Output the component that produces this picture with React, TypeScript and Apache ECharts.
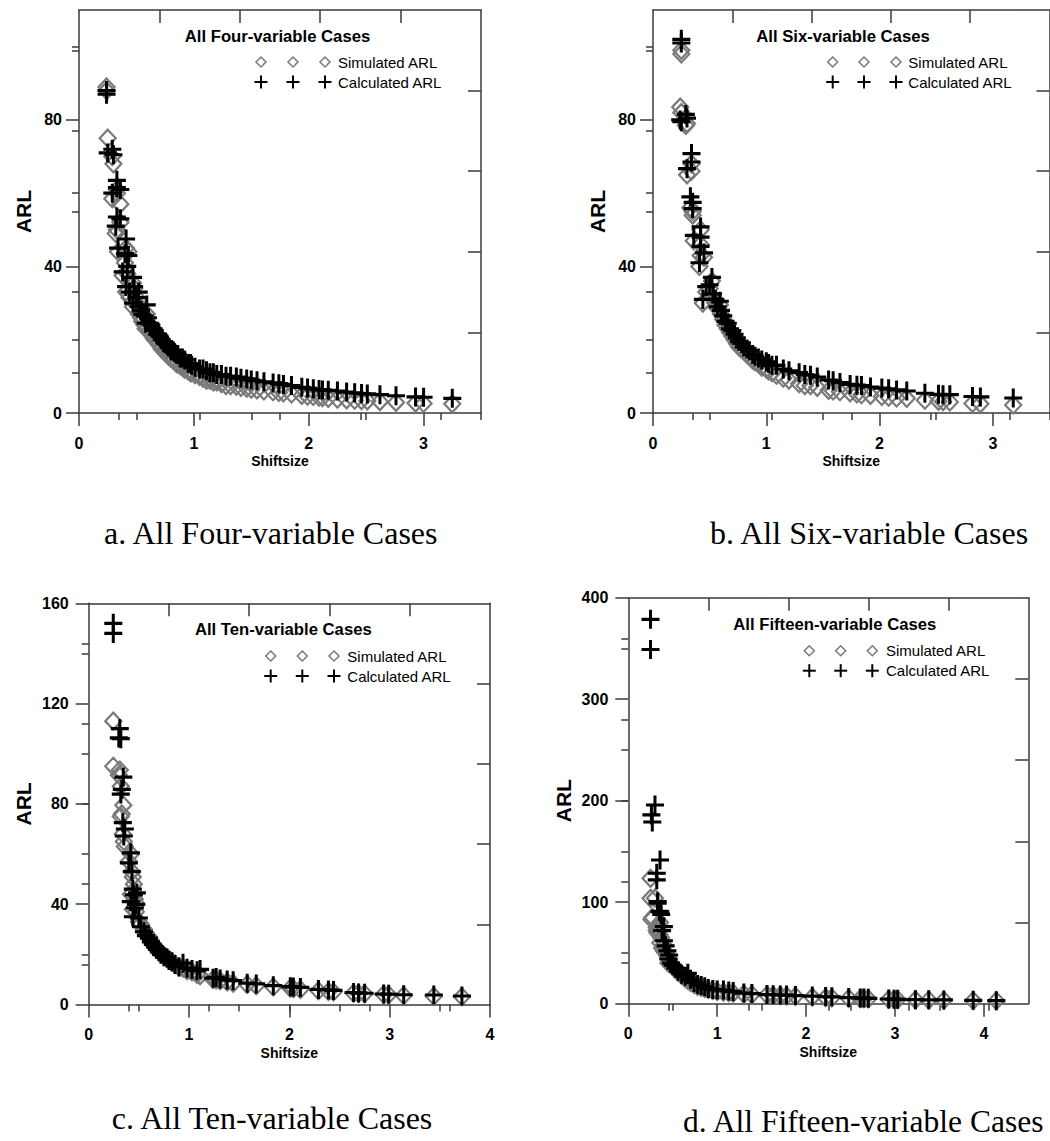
import React, { useEffect, useRef } from "react";
import * as echarts from "echarts";

// ---------- DATA ----------
// Panel a: all four-variable cases
const fourShift = [
  0.24, 0.24, 0.25, 0.29, 0.30, 0.29, 0.33, 0.33, 0.36, 0.33,
  0.32, 0.36, 0.34, 0.41, 0.43, 0.40, 0.42, 0.38, 0.47, 0.41,
  0.48, 0.44, 0.52, 0.47, 0.50, 0.59, 0.52, 0.54, 0.55, 0.57,
  0.60, 0.58, 0.62, 0.63, 0.65, 0.66, 0.68, 0.69, 0.70, 0.72,
  0.74, 0.75, 0.77, 0.78, 0.80, 0.82, 0.83, 0.85, 0.86, 0.88,
  0.90, 0.92, 0.95, 0.97, 0.98, 1.01, 1.05, 1.08, 1.11, 1.14,
  1.17, 1.20, 1.24, 1.28, 1.32, 1.37, 1.41, 1.46, 1.50, 1.55,
  1.61, 1.69, 1.74, 1.78, 1.85, 1.94, 1.99, 2.04, 2.09, 2.12,
  2.17, 2.25, 2.33, 2.40, 2.46, 2.51, 2.62, 2.76, 2.93, 3.00,
  3.25,
];
const fourSimulated = [
  89, 88, 75, 70, 68, 58.5, 61, 60, 57, 50,
  49, 52, 44, 45, 44, 41, 38, 37.5, 35.5, 33,
  34, 31.5, 31, 29, 30, 27, 27, 26, 25, 24,
  23.5, 23, 22, 22, 20.5, 20, 19.5, 19, 18.5, 17.5,
  17, 16.5, 16, 15.5, 15, 14.5, 14.5, 13.5, 13.5, 13,
  12.5, 12, 11.5, 11, 11, 10.5, 10, 9.5, 9, 9,
  8.5, 8.5, 8, 7.5, 7.5, 7.3, 7, 6.8, 6.5, 6.3,
  6, 5.8, 5.6, 5.5, 5.2, 4.8, 4.6, 4.5, 4.3, 4.2,
  4, 3.8, 3.6, 3.5, 3.4, 3.3, 3.1, 2.9, 2.7, 2.6,
  2.5,
];
const fourCalculated = [
  88, 87, 71, 72, 70.5, 60, 63.5, 61.5, 61, 53.5,
  51, 53, 45, 47.5, 43, 43.5, 40, 38.5, 37, 34.5,
  34.5, 33, 33, 30, 31.5, 29.5, 29, 28, 27, 26.5,
  26, 24.5, 24.5, 24, 23, 22.5, 21.5, 21.5, 21, 20,
  19.5, 19, 18.5, 18, 17, 17, 16.5, 16, 16, 15,
  15, 14.5, 13.5, 13.5, 13, 12.5, 12, 12, 11.5, 11,
  11, 10.5, 10.5, 10, 10, 9.8, 9.5, 9.3, 9, 8.8,
  8.5, 8.2, 8, 7.8, 7.5, 7, 6.8, 6.6, 6.4, 6.3,
  6.2, 6, 5.7, 5.5, 5.3, 5.2, 5, 4.7, 4.4, 4.3,
  4.0,
];

// Panel b: all six-variable cases
const sixShift = [
  0.25, 0.25, 0.24, 0.25, 0.29, 0.30, 0.34, 0.34, 0.30, 0.33,
  0.35, 0.35, 0.42, 0.36, 0.42, 0.42, 0.45, 0.41, 0.52, 0.47,
  0.53, 0.44, 0.59, 0.50, 0.55, 0.57, 0.60, 0.62, 0.64, 0.66,
  0.68, 0.70, 0.72, 0.74, 0.76, 0.78, 0.80, 0.83, 0.85, 0.88,
  0.90, 0.93, 0.96, 1.00, 1.02, 1.05, 1.09, 1.15, 1.20, 1.29,
  1.34, 1.39, 1.45, 1.55, 1.59, 1.65, 1.74, 1.80, 1.84, 1.92,
  2.02, 2.08, 2.15, 2.24, 2.40, 2.52, 2.56, 2.62, 2.82, 2.89,
  3.18,
];
const sixSimulated = [
  99, 98, 83.5, 82, 78.5, 79, 68, 66, 65, 56,
  54, 55, 50, 47, 46, 43, 42.5, 40, 36, 33,
  31.5, 30, 29.5, 34, 30, 28.5, 27, 25.5, 24, 23,
  22, 21, 20, 19, 18, 17.5, 17, 16, 15.5, 14.5,
  14, 13.5, 12.5, 12, 11.5, 11, 10.3, 9.5, 9, 8,
  7.5, 7.5, 7, 6.2, 6, 5.8, 5.5, 5.2, 5, 4.8,
  4.5, 4.3, 4.1, 4, 3.5, 3.2, 3.1, 3, 2.6, 2.5,
  2.2,
];
const sixCalculated = [
  102, 101, 80, 79.5, 81.5, 80.5, 70.8, 68.5, 66.7, 59,
  57.5, 55.8, 50.8, 48.5, 48, 45.5, 43.7, 41, 37, 34.5,
  32.5, 31, 30.5, 35, 31, 29, 28, 26.5, 25, 24.5,
  23, 22.5, 21.5, 20.5, 19.5, 19, 18, 17.5, 17, 16,
  15.5, 15, 14.5, 14, 13.5, 13, 13, 12, 11.5, 11,
  10.5, 10.3, 9.8, 9, 8.8, 8.3, 7.8, 7.6, 7.5, 7.1,
  6.8, 6.6, 6.3, 6, 5.4, 5.1, 5, 5, 4.5, 4.4,
  4.1,
];

// Panel c: all ten-variable cases
const tenShift = [
  0.245, 0.245, 0.31, 0.30, 0.32, 0.345, 0.33, 0.32, 0.34, 0.35,
  0.36, 0.42, 0.40, 0.43, 0.44, 0.45, 0.42, 0.46, 0.44, 0.48,
  0.47, 0.50, 0.52, 0.55, 0.57, 0.60, 0.62, 0.64, 0.66, 0.68,
  0.70, 0.72, 0.75, 0.78, 0.80, 0.83, 0.86, 0.90, 0.94, 0.98,
  1.03, 1.08, 1.11, 1.24, 1.27, 1.31, 1.38, 1.44, 1.58, 1.67,
  1.84, 2.01, 2.04, 2.11, 2.29, 2.39, 2.44, 2.64, 2.69, 2.75,
  2.94, 2.99, 3.14, 3.44, 3.72,
];
const tenSimulated = [
  113, 95, 93.5, 91.5, 87, 79.5, 76, 75, 68, 65,
  63, 60, 57, 53, 50.8, 48, 44, 42, 38, 40,
  37, 33, 32, 30, 28.5, 27, 25.5, 24, 23, 22,
  21.5, 20.5, 19.5, 18.5, 18, 17, 16, 15, 14.5, 13.5,
  13, 12, 11.5, 10, 9.8, 9.5, 9, 8.5, 8, 7.5,
  7, 6.5, 6.3, 6, 5.5, 5.2, 5, 4.5, 4.4, 4.3,
  4, 3.9, 3.6, 3.3, 3.1,
];
const tenCalculated = [
  152, 148, 110, 106.3, 106, 90.7, 85.8, 83.9, 72.5, 67.2,
  70, 60.5, 56.5, 53, 46, 43.7, 41, 38.5, 35, 44.5,
  39.9, 34.5, 31, 29, 27.5, 26.5, 25, 24, 23, 22,
  21, 20, 19, 18.5, 17.5, 17, 16, 15, 16.5, 14.5,
  14, 13.5, 14, 10.5, 10.8, 10.2, 9.8, 9.5, 8.5, 8.2,
  7.5, 7.1, 7, 6.8, 6, 5.8, 5.6, 4.8, 4.6, 4.5,
  4.2, 4.1, 3.9, 3.8, 3.4,
];

// Panel d: all fifteen-variable cases
const fifteenShift = [
  0.25, 0.25, 0.30, 0.26, 0.27, 0.357, 0.32, 0.32, 0.33, 0.35,
  0.37, 0.33, 0.36, 0.40, 0.38, 0.40, 0.42, 0.44, 0.46, 0.45,
  0.48, 0.50, 0.53, 0.56, 0.60, 0.64, 0.67, 0.70, 0.74, 0.78,
  0.82, 0.86, 0.90, 0.95, 1.00, 1.07, 1.13, 1.18, 1.30, 1.39,
  1.56, 1.63, 1.71, 1.78, 1.88, 2.07, 2.22, 2.29, 2.48, 2.61,
  2.65, 2.70, 2.93, 2.99, 3.03, 3.23, 3.38, 3.55, 3.88, 4.14,
];
const fifteenSimulated = [
  123.5, 103.8, 104, 83, 85, 80, 75, 72, 70, 68,
  65, 70, 60, 58, 55, 52, 50, 47, 44, 40,
  40, 37, 34, 31, 28, 25, 23, 21, 19, 17,
  16, 15, 14, 13, 12, 11.5, 11, 10.5, 9.5, 9,
  8.5, 8.2, 8, 7.7, 7.3, 6.5, 6, 5.8, 5.3, 5,
  4.9, 4.8, 4.3, 4.2, 4.1, 3.8, 3.6, 3.4, 3.1, 2.9,
];
const fifteenCalculated = [
  378.7, 349, 195.8, 186, 179, 141.6, 128.5, 122, 99, 91,
  88, 100.5, 90.6, 75.9, 72, 62, 57, 52, 48, 44,
  40, 38, 35, 32, 29, 27, 30, 24, 21, 19,
  18, 16.7, 15, 14, 13.5, 13.5, 12.5, 12, 10.5, 10,
  9, 8.8, 8.6, 8.5, 8, 7.5, 7, 6.8, 6, 5.6,
  5.5, 5.3, 4.6, 4.4, 4.3, 4, 3.8, 3.7, 3.3, 3.0,
];

// Tick labels / tick positions
const ticksA = { xMajor: [0, 1, 2, 3], xMinor: [0.5, 1.5, 2.5, 3.5], yMajor: [0, 40, 80], yMinor: [20, 60, 100] };
const ticksB = { xMajor: [0, 1, 2, 3], xMinor: [0.5, 1.5, 2.5, 3.5], yMajor: [0, 40, 80], yMinor: [20, 60, 100] };
const ticksC = { xMajor: [0, 1, 2, 3, 4], xMinor: [0.5, 1.5, 2.5, 3.5], yMajor: [0, 40, 80, 120, 160], yMinor: [20, 60, 100, 140] };
const ticksD = { xMajor: [0, 1, 2, 3, 4], xMinor: [0.5, 1.5, 2.5, 3.5], yMajor: [0, 100, 200, 300, 400], yMinor: [50, 150, 250, 350] };
const frameMajor = [2, 4, 6, 8];
const frameMinor = [1, 3, 5, 7, 9];

const seriesNames = ["Simulated ARL", "Calculated ARL"];

// ---------- LAYOUT ----------
const panels = [
  {
    shift: fourShift, sim: fourSimulated, calc: fourCalculated, ticks: ticksA,
    grid: { left: 79, top: 10, width: 402, height: 403 }, xMax: 3.5, yMax: 110,
    title: "All Four-variable Cases", titleX: 277.5, titleY: 36.7,
    legX: [261, 293, 325], legTextX: 338, legY: [62, 82],
    caption: "a. All Four-variable Cases", capX: 104, capY: 532.5, capSize: 32,
    yNameGap: 45.5, yLabelMargin: 17,
  },
  {
    shift: sixShift, sim: sixSimulated, calc: sixCalculated, ticks: ticksB,
    grid: { left: 653, top: 10, width: 396.5, height: 403 }, xMax: 3.5, yMax: 110,
    title: "All Six-variable Cases", titleX: 843, titleY: 36.7,
    legX: [832.7, 864, 896], legTextX: 908.3, legY: [62, 82],
    caption: "b. All Six-variable Cases", capX: 710, capY: 532.5, capSize: 32,
    yNameGap: 45.5, yLabelMargin: 17,
  },
  {
    shift: tenShift, sim: tenSimulated, calc: tenCalculated, ticks: ticksC,
    grid: { left: 88.7, top: 603.3, width: 401.3, height: 401.2 }, xMax: 4, yMax: 160,
    title: "All Ten-variable Cases", titleX: 283.3, titleY: 629.3,
    legX: [270.7, 302.3, 334], legTextX: 347.3, legY: [656, 676],
    caption: "c. All Ten-variable Cases", capX: 111.7, capY: 1118, capSize: 32,
    yNameGap: 55.2, yLabelMargin: 20,
  },
  {
    shift: fifteenShift, sim: fifteenSimulated, calc: fifteenCalculated, ticks: ticksD,
    grid: { left: 628.3, top: 597.7, width: 400, height: 406 }, xMax: 4.5, yMax: 400,
    title: "All Fifteen-variable Cases", titleX: 834.8, titleY: 624,
    legX: [809.3, 840.7, 872.3], legTextX: 886, legY: [650.7, 670.7],
    caption: "d. All Fifteen-variable Cases", capX: 683, capY: 1121, capSize: 31.5,
    yNameGap: 54, yLabelMargin: 20,
  },
];

const AXIS_COLOR = "#3a3a3a";
const SIM_COLOR = "#7a7a7a";
const SANS = '"Liberation Sans", Arial, sans-serif';
const SERIF = '"Liberation Serif", "Times New Roman", serif';
const PLUS_PATH =
  "path://M7.5,0H10.5V7.5H18V10.5H10.5V18H7.5V10.5H0V7.5H7.5Z";

function buildOption() {
  const grid: any[] = [];
  const xAxis: any[] = [];
  const yAxis: any[] = [];
  const series: any[] = [];
  const graphic: any[] = [];

  panels.forEach((p, i) => {
    grid.push({ ...p.grid, containLabel: false });
    const base = { gridIndex: i, type: "value", splitLine: { show: false } };
    const line = { show: true, lineStyle: { color: AXIS_COLOR, width: 1.5 } };
    const tickStyle = { color: AXIS_COLOR, width: 1.5 };

    // bottom (data) x axis: labels + long ticks
    xAxis.push({
      ...base, position: "bottom", min: 0, max: p.xMax,
      axisLine: { ...line, onZero: false },
      axisTick: { show: true, inside: false, length: 13, lineStyle: tickStyle, customValues: p.ticks.xMajor },
      axisLabel: {
        show: true, customValues: p.ticks.xMajor, margin: 22,
        fontFamily: SANS, fontWeight: "bold", fontSize: 16, color: "#000",
      },
      name: "Shiftsize", nameLocation: "middle", nameGap: 41,
      nameTextStyle: { fontFamily: SANS, fontWeight: "bold", fontSize: 14, color: "#000" },
    });
    // bottom minor ticks
    xAxis.push({
      ...base, position: "bottom", min: 0, max: p.xMax,
      axisLine: { show: false },
      axisTick: { show: true, inside: false, length: 7, lineStyle: tickStyle, customValues: p.ticks.xMinor },
      axisLabel: { show: false },
    });
    // top frame
    xAxis.push({
      ...base, position: "top", min: 0, max: 10,
      axisLine: { ...line, onZero: false },
      axisTick: { show: true, inside: true, length: 13, lineStyle: tickStyle, customValues: frameMajor },
      axisLabel: { show: false },
    });
    xAxis.push({
      ...base, position: "top", min: 0, max: 10,
      axisLine: { show: false },
      axisTick: { show: true, inside: true, length: 7, lineStyle: tickStyle, customValues: frameMinor },
      axisLabel: { show: false },
    });

    // left (data) y axis
    yAxis.push({
      ...base, position: "left", min: 0, max: p.yMax,
      axisLine: { ...line, onZero: false },
      axisTick: { show: true, inside: false, length: 13, lineStyle: tickStyle, customValues: p.ticks.yMajor },
      axisLabel: {
        show: true, customValues: p.ticks.yMajor, margin: p.yLabelMargin,
        fontFamily: SANS, fontWeight: "bold", fontSize: 16, color: "#000",
      },
      name: "ARL", nameLocation: "middle", nameGap: p.yNameGap,
      nameTextStyle: { fontFamily: SANS, fontWeight: "bold", fontSize: 21, color: "#000" },
    });
    yAxis.push({
      ...base, position: "left", min: 0, max: p.yMax,
      axisLine: { show: false },
      axisTick: { show: true, inside: false, length: 7, lineStyle: tickStyle, customValues: p.ticks.yMinor },
      axisLabel: { show: false },
    });
    // right frame
    yAxis.push({
      ...base, position: "right", min: 0, max: 10,
      axisLine: { ...line, onZero: false },
      axisTick: { show: true, inside: true, length: 13, lineStyle: tickStyle, customValues: frameMajor },
      axisLabel: { show: false },
    });
    yAxis.push({
      ...base, position: "right", min: 0, max: 10,
      axisLine: { show: false },
      axisTick: { show: true, inside: true, length: 7, lineStyle: tickStyle, customValues: frameMinor },
      axisLabel: { show: false },
    });

    const xi = i * 4;
    const yi = i * 4;
    series.push({
      type: "scatter", name: seriesNames[0], xAxisIndex: xi, yAxisIndex: yi,
      data: p.shift.map((s, k) => [s, p.sim[k]]),
      symbol: "diamond", symbolSize: [16, 17],
      itemStyle: { color: "rgba(255,255,255,0)", borderColor: SIM_COLOR, borderWidth: 2.2, opacity: 1 },
      emphasis: { disabled: true }, z: 2,
    });
    series.push({
      type: "scatter", name: seriesNames[1], xAxisIndex: xi, yAxisIndex: yi,
      data: p.shift.map((s, k) => [s, p.calc[k]]),
      symbol: PLUS_PATH, symbolSize: [18, 19],
      itemStyle: { color: "#000", opacity: 1 },
      emphasis: { disabled: true }, z: 3,
    });

    // Title inside the plot
    graphic.push({
      type: "text", x: p.titleX, y: p.titleY,
      style: {
        text: p.title, fill: "#000", font: `bold 16.7px ${SANS}`,
        align: "center", verticalAlign: "middle", textAlign: "center", textVerticalAlign: "middle",
      },
    });
    // Legend: three diamonds / three pluses
    p.legX.forEach((cx) => {
      const cy = p.legY[0];
      graphic.push({
        type: "polygon",
        shape: { points: [[cx, cy - 5], [cx + 5, cy], [cx, cy + 5], [cx - 5, cy]] },
        style: { fill: "none", stroke: SIM_COLOR, lineWidth: 1.5 },
      });
      const py = p.legY[1];
      graphic.push({ type: "line", shape: { x1: cx - 6.5, y1: py, x2: cx + 6.5, y2: py }, style: { stroke: "#000", lineWidth: 2 } });
      graphic.push({ type: "line", shape: { x1: cx, y1: py - 6.5, x2: cx, y2: py + 6.5 }, style: { stroke: "#000", lineWidth: 2 } });
    });
    seriesNames.forEach((nm, k) => {
      graphic.push({
        type: "text", x: p.legTextX, y: p.legY[k],
        style: {
          text: nm, fill: "#000", font: `15px ${SANS}`,
          align: "left", verticalAlign: "middle", textAlign: "left", textVerticalAlign: "middle",
        },
      });
    });
    // Caption under the plot
    graphic.push({
      type: "text", x: p.capX, y: p.capY,
      style: {
        text: p.caption, fill: "#000", font: `${p.capSize}px ${SERIF}`,
        align: "left", verticalAlign: "middle", textAlign: "left", textVerticalAlign: "middle",
      },
    });
  });

  return {
    animation: false,
    backgroundColor: "#fff",
    grid, xAxis, yAxis, series, graphic,
  };
}

export default function App() {
  const ref = useRef<HTMLDivElement>(null);
  useEffect(() => {
    if (!ref.current) return;
    const chart = echarts.init(ref.current, null, { renderer: "svg" });
    chart.setOption(buildOption() as any);
    return () => chart.dispose();
  }, []);
  return (
    <div
      ref={ref}
      style={{ position: "absolute", left: 0, top: 0, width: 1050, height: 1141, background: "#fff" }}
    />
  );
}
